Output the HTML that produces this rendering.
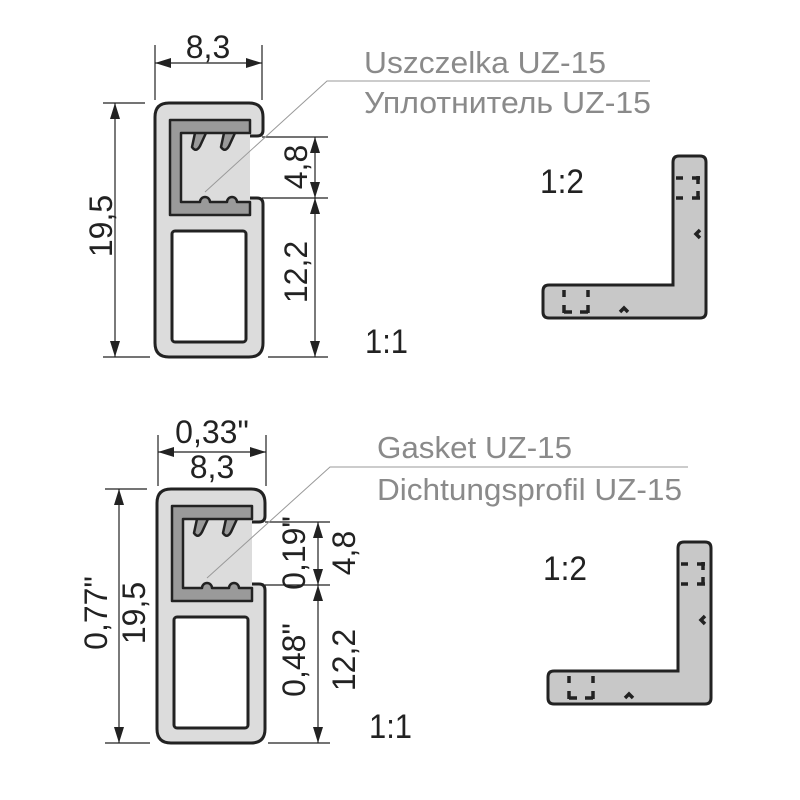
<!DOCTYPE html>
<html><head><meta charset="utf-8"><style>
html,body{margin:0;padding:0;background:#fff;}
svg{display:block;}
text{font-family:"Liberation Sans",sans-serif;}
</style></head><body>
<svg width="800" height="800" viewBox="0 0 800 800" xmlns="http://www.w3.org/2000/svg">
<defs>
<marker id="a" viewBox="0 0 16 10" refX="16" refY="5" markerWidth="16" markerHeight="10" markerUnits="userSpaceOnUse" orient="auto-start-reverse">
<path d="M0,0 L16,5 L0,10 Z" fill="#222"/></marker>
<g id="prof">
<path d="M169,103 H249 Q263,103 263,117 V130 Q263,136 257,136 H250 V198 H257 Q263,198 263,204 V343 Q263,357 249,357 H169 Q155,357 155,343 V117 Q155,103 169,103 Z" fill="#dcdcdc"/>
<path d="M250,136 H257 Q263,136 263,130 V117 Q263,103 249,103 H169 Q155,103 155,117 V343 Q155,357 169,357 H249 Q263,357 263,343 V204 Q263,198 257,198 H250" fill="none" stroke="#222" stroke-width="3"/>
<path d="M250,120 H170 V215 H250 V202 H237 A5,5 0 0 0 227,202 H210 A5,5 0 0 0 200,202 H181 V133 H206 L200,146 Q196,153 192,147 L195,133 H235 L229,146 Q225,153 221,147 L224,133 H250 Z" fill="#9a9a9a" stroke="#222" stroke-width="2.5" stroke-linejoin="round"/>
<rect x="172" y="231" width="74" height="111" rx="3" fill="#fff" stroke="#222" stroke-width="3"/>
</g>
<g id="ell">
<path d="M673,162 Q673,156 679,156 H700 Q706,156 706,162 V312 Q706,318 700,318 H549 Q543,318 543,312 V291 Q543,285 549,285 H673 Z" fill="#c8c8c8" stroke="#222" stroke-width="3"/>
<g stroke="#222" stroke-width="3.5" fill="none">
<path d="M676,178 H683 M692,178 H700 M676,198 H683 M692,198 H700 M698,176 V184 M698,191 V199"/>
<path d="M564,290 V297 M588,290 V297 M564,305 V313 M588,305 V313 M564,312 H572 M580,312 H588"/>
<path d="M620,312 L624,308 L628,312 M700,230 L696,234 L700,238"/>
</g>
</g>
</defs>

<!-- TOP -->
<use href="#prof"/>
<g stroke="#222" stroke-width="1.2" fill="none">
<line x1="155" y1="45" x2="155" y2="100"/><line x1="262" y1="45" x2="262" y2="100"/>
<line x1="155" y1="63" x2="262" y2="63" marker-start="url(#a)" marker-end="url(#a)"/>
<line x1="103" y1="103" x2="145" y2="103"/><line x1="103" y1="357" x2="150" y2="357"/>
<line x1="115" y1="103" x2="115" y2="357" marker-start="url(#a)" marker-end="url(#a)"/>
<line x1="262" y1="137" x2="328" y2="137"/><line x1="262" y1="198" x2="328" y2="198"/><line x1="268" y1="357" x2="328" y2="357"/>
<line x1="315" y1="137" x2="315" y2="198" marker-start="url(#a)" marker-end="url(#a)"/>
<line x1="315" y1="198" x2="315" y2="357" marker-start="url(#a)" marker-end="url(#a)"/>
</g>
<g fill="#222" font-size="32">
<text x="208" y="58" text-anchor="middle">8,3</text>
<text transform="translate(112,226) rotate(-90)" text-anchor="middle">19,5</text>
<text transform="translate(307,167) rotate(-90)" text-anchor="middle">4,8</text>
<text transform="translate(307,272) rotate(-90)" text-anchor="middle">12,2</text>
<text x="365" y="353" font-size="34" textLength="43" lengthAdjust="spacingAndGlyphs">1:1</text>
<text x="540" y="193" font-size="34" textLength="44" lengthAdjust="spacingAndGlyphs">1:2</text>
</g>
<g stroke="#999" stroke-width="1" fill="none">
<polyline points="205,192 327,81 650,81"/>
</g>
<g fill="#8a8a8a" font-size="31">
<text x="364" y="73" textLength="242" lengthAdjust="spacingAndGlyphs">Uszczelka UZ-15</text>
<text x="364" y="113" textLength="287" lengthAdjust="spacingAndGlyphs">Уплотнитель UZ-15</text>
</g>
<use href="#ell"/>

<!-- BOTTOM -->
<g transform="translate(2,386)"><use href="#prof"/></g>
<g stroke="#222" stroke-width="1.2" fill="none">
<line x1="158" y1="435" x2="158" y2="486"/><line x1="266" y1="435" x2="266" y2="486"/>
<line x1="158" y1="452" x2="266" y2="452" marker-start="url(#a)" marker-end="url(#a)"/>
<line x1="105" y1="489" x2="147" y2="489"/><line x1="105" y1="743" x2="150" y2="743"/>
<line x1="119" y1="489" x2="119" y2="743" marker-start="url(#a)" marker-end="url(#a)"/>
<line x1="265" y1="522" x2="330" y2="522"/><line x1="265" y1="585" x2="330" y2="585"/><line x1="268" y1="743" x2="330" y2="743"/>
<line x1="318" y1="522" x2="318" y2="585" marker-start="url(#a)" marker-end="url(#a)"/>
<line x1="318" y1="585" x2="318" y2="743" marker-start="url(#a)" marker-end="url(#a)"/>
</g>
<g fill="#222" font-size="32">
<text x="212" y="443" text-anchor="middle">0,33"</text>
<text x="212" y="478" text-anchor="middle">8,3</text>
<text transform="translate(107,613) rotate(-90)" text-anchor="middle">0,77"</text>
<text transform="translate(145,613) rotate(-90)" text-anchor="middle">19,5</text>
<text transform="translate(305,553) rotate(-90)" text-anchor="middle">0,19"</text>
<text transform="translate(355,553) rotate(-90)" text-anchor="middle">4,8</text>
<text transform="translate(305,660) rotate(-90)" text-anchor="middle">0,48"</text>
<text transform="translate(355,660) rotate(-90)" text-anchor="middle">12,2</text>
<text x="369" y="738" font-size="34" textLength="43" lengthAdjust="spacingAndGlyphs">1:1</text>
<text x="543" y="580" font-size="34" textLength="44" lengthAdjust="spacingAndGlyphs">1:2</text>
</g>
<g stroke="#999" stroke-width="1" fill="none">
<polyline points="207,578 330,467 688,467"/>
</g>
<g fill="#8a8a8a" font-size="31">
<text x="377" y="458" textLength="195" lengthAdjust="spacingAndGlyphs">Gasket UZ-15</text>
<text x="377" y="500" textLength="305" lengthAdjust="spacingAndGlyphs">Dichtungsprofil UZ-15</text>
</g>
<g transform="translate(5,386)"><use href="#ell"/></g>
</svg>
</body></html>
